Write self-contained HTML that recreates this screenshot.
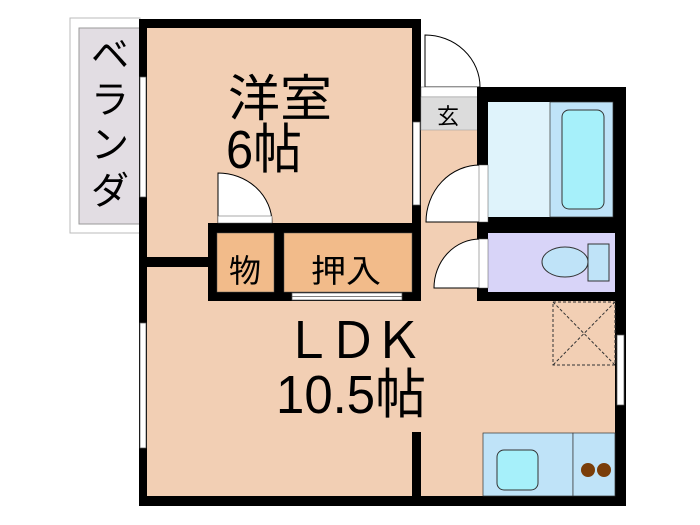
<!DOCTYPE html>
<html><head><meta charset="utf-8"><style>
html,body{margin:0;padding:0;background:#fff;}
svg{display:block;}
text{font-family:"Liberation Sans","Noto Sans CJK JP",sans-serif;fill:#000;}
</style></head><body>
<svg width="700" height="525" viewBox="0 0 700 525" xmlns="http://www.w3.org/2000/svg">
<!-- veranda -->
<rect x="70" y="18" width="70" height="215" fill="#fff" stroke="#bbb" stroke-width="1"/>
<rect x="79" y="28" width="61" height="196" fill="#e2dde3" stroke="#999" stroke-width="1"/>
<text x="110" y="68" font-size="38" text-anchor="middle">ベ</text>
<text x="110" y="113" font-size="38" text-anchor="middle">ラ</text>
<text x="110" y="158" font-size="38" text-anchor="middle">ン</text>
<text x="110" y="204" font-size="38" text-anchor="middle">ダ</text>
<!-- floor fills -->
<rect x="139" y="19" width="281" height="487" fill="#f2cfb4"/>
<rect x="420" y="130" width="206" height="376" fill="#f2cfb4"/>
<!-- walls -->
<rect x="139" y="19" width="281" height="9" fill="#000"/>
<rect x="139" y="19" width="8" height="487" fill="#000"/>
<rect x="412" y="19" width="9" height="282" fill="#000"/>
<rect x="139" y="496" width="487" height="10" fill="#000"/>
<rect x="615" y="87" width="11" height="419" fill="#000"/>
<rect x="147" y="257" width="62" height="10" fill="#000"/>
<rect x="208" y="223" width="212" height="10" fill="#000"/>
<rect x="208" y="223" width="9" height="78" fill="#000"/>
<rect x="274" y="223" width="10" height="78" fill="#000"/>
<rect x="208" y="292" width="212" height="9" fill="#000"/>
<rect x="412" y="432" width="9" height="66" fill="#000"/>
<!-- closets -->
<rect x="217" y="233" width="57" height="59" fill="#f2bb8a" stroke="#555" stroke-width="0.5"/>
<rect x="284" y="233" width="128" height="59" fill="#f2bb8a" stroke="#555" stroke-width="0.5"/>
<text x="245" y="282" font-size="32" text-anchor="middle">物</text>
<text x="346" y="282" font-size="32" text-anchor="middle" textLength="70" lengthAdjust="spacingAndGlyphs">押入</text>
<rect x="292" y="293" width="110" height="7" fill="#fff" stroke="#555" stroke-width="0.7"/>
<line x1="292" y1="296.5" x2="402" y2="296.5" stroke="#555" stroke-width="0.7"/>
<!-- windows -->
<rect x="140" y="77" width="6" height="120" fill="#fff" stroke="#555" stroke-width="0.7"/>
<rect x="140" y="323" width="6" height="125" fill="#fff" stroke="#555" stroke-width="0.7"/>
<rect x="413" y="122" width="7" height="83" fill="#fff" stroke="#555" stroke-width="0.7"/>
<rect x="617" y="135" width="7" height="55" fill="#fff" stroke="#555" stroke-width="0.7"/>
<rect x="617" y="244" width="7" height="36" fill="#fff" stroke="#555" stroke-width="0.7"/>
<rect x="617" y="335" width="7" height="70" fill="#fff" stroke="#555" stroke-width="0.7"/>
<!-- room door -->
<path d="M218,223 L218,173 A54,50 0 0 1 272,223 Z" fill="#fff" stroke="#000" stroke-width="1"/>
<rect x="218" y="216" width="54" height="7" fill="#fff" stroke="#555" stroke-width="0.5"/>
<!-- entrance -->
<path d="M425,87 L425,35 A55,52 0 0 1 480,87 Z" fill="#fff" stroke="#000" stroke-width="1"/>
<rect x="421" y="87" width="57" height="10" fill="#fff" stroke="#555" stroke-width="0.5"/>
<rect x="421" y="97" width="57" height="33" fill="#dcdcdc" stroke="#999" stroke-width="0.5"/>
<text x="448" y="124" font-size="22" text-anchor="middle">玄</text>
<!-- bath block -->
<rect x="477" y="87" width="149" height="214" fill="#000"/>
<rect x="488" y="102" width="62" height="115" fill="#dff3fb"/>
<rect x="550" y="102" width="63" height="115" fill="#bfe3f8" stroke="#333" stroke-width="0.7"/>
<rect x="562" y="110" width="42" height="99" rx="7" fill="#a6f0fa" stroke="#333" stroke-width="1"/>
<rect x="488" y="233" width="127" height="59" fill="#d8d4f8"/>
<ellipse cx="565" cy="262" rx="23" ry="15" fill="#bfe3f8" stroke="#333" stroke-width="1"/>
<rect x="588" y="244" width="21" height="37" fill="#bfe3f8" stroke="#333" stroke-width="1"/>
<!-- bath/toilet doors -->
<path d="M480,222 L426,222 A54,57 0 0 1 480,165 Z" fill="#fff" stroke="#000" stroke-width="1"/>
<rect x="479" y="165" width="9" height="57" fill="#fff" stroke="#555" stroke-width="0.5"/>
<path d="M480,288 L434,288 A46,49 0 0 1 480,239 Z" fill="#fff" stroke="#000" stroke-width="1"/>
<rect x="479" y="239" width="9" height="49" fill="#fff" stroke="#555" stroke-width="0.5"/>
<!-- dashed box -->
<rect x="553" y="302" width="62" height="63" fill="none" stroke="#333" stroke-width="1" stroke-dasharray="3,2"/>
<line x1="553" y1="302" x2="615" y2="365" stroke="#333" stroke-width="1" stroke-dasharray="3,2"/>
<line x1="615" y1="302" x2="553" y2="365" stroke="#333" stroke-width="1" stroke-dasharray="3,2"/>
<!-- kitchen -->
<rect x="483" y="433" width="90" height="63" fill="#bfe3f8" stroke="#333" stroke-width="0.7"/>
<rect x="573" y="433" width="42" height="63" fill="#bfe3f8" stroke="#333" stroke-width="0.7"/>
<rect x="497" y="450" width="41" height="40" rx="7" fill="#a6f0fa" stroke="#333" stroke-width="1"/>
<circle cx="588" cy="470" r="7" fill="#7a3e0a"/>
<circle cx="604" cy="470" r="7" fill="#7a3e0a"/>
<!-- labels -->
<text x="228" y="116" font-size="50" textLength="104" lengthAdjust="spacingAndGlyphs">洋室</text>
<text x="226" y="168" font-size="54" textLength="76" lengthAdjust="spacingAndGlyphs">6帖</text>
<text x="283" y="358" font-size="50" textLength="140" lengthAdjust="spacing">ＬＤＫ</text>
<text x="276" y="413" font-size="54" textLength="150" lengthAdjust="spacingAndGlyphs">10.5帖</text>
</svg>
</body></html>
